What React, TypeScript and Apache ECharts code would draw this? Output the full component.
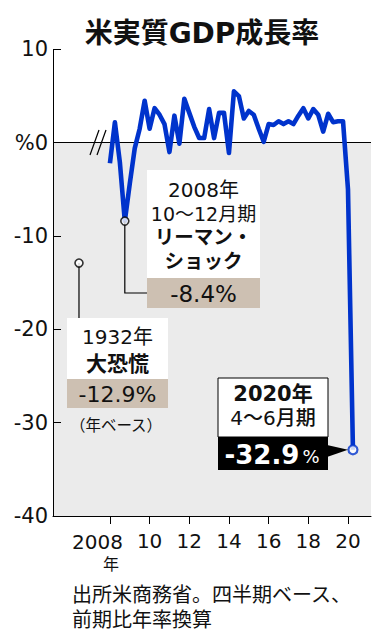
import React, { useEffect, useRef } from "react";
import * as echarts from "echarts";

// ---- data ----
const startYear = 2008;
// US real GDP growth, quarterly, annualized q/q (%), 2008Q1 .. 2020Q2
const gdpGrowth = [
  -2.2, 2.2, -2.1, -8.4,
  -4.4, -0.6, 1.5, 4.5,
  1.5, 3.7, 3.0, 2.0,
  -1.0, 2.9, -0.1, 4.7,
  3.2, 1.7, 0.5, 0.5,
  3.6, 0.5, 3.2, 3.2,
  -1.1, 5.5, 5.0, 2.6,
  3.4, 3.0, 1.5, 0.1,
  2.0, 1.9, 2.3, 2.0,
  2.3, 2.0, 2.9, 3.7,
  2.6, 3.6, 3.0, 1.2,
  3.1, 2.2, 2.3, 2.3,
  -5.0, -32.9,
];
const xTickYears = [2008, 2010, 2012, 2014, 2016, 2018, 2020];
const yTicks = [10, 0, -10, -20, -30, -40];
const lehmanIndex = 3; // 2008 Q4
const covidIndex = gdpGrowth.length - 1; // 2020 Q2
const depressionValue = -12.9; // 1932, annual basis
const depressionSlot = 2006.44; // drawn left of the series, outside its time range
const xMin = 2005.13;
const xMax = 2021.16;
const yMin = -40;

const quarterPos = (i: number) => startYear + Math.floor(i / 4) + (i % 4) / 4;

const FONT = "'DejaVu Sans', 'Noto Sans CJK JP', sans-serif";
const CJK = "'Noto Sans CJK JP', sans-serif";
const BLUE = "#0033cc";
const TAN = "#cdc0b2";
const GRAY = "#ebebeb";

export default function App() {
  const ref = useRef<HTMLDivElement>(null);
  useEffect(() => {
    const chart = echarts.init(ref.current!, null, { renderer: "svg" });
    const lineData = gdpGrowth.map((v, i) => [quarterPos(i), v]);
    const lehmanPt = [quarterPos(lehmanIndex), gdpGrowth[lehmanIndex]];
    const covidPt = [quarterPos(covidIndex), gdpGrowth[covidIndex]];
    const depPt = [depressionSlot, depressionValue];

    chart.setOption({
      animation: false,
      backgroundColor: "#fff",
      textStyle: { fontFamily: FONT },
      grid: { left: 53, right: 13, top: 49.4, bottom: 124 },
      xAxis: {
        type: "value",
        min: xMin,
        max: xMax,
        z: 10,
        splitLine: { show: false },
        axisLine: { show: true, onZero: false, lineStyle: { color: "#000", width: 1 } },
        axisTick: { show: true, customValues: xTickYears, length: 8, lineStyle: { color: "#000" } },
        axisLabel: {
          // the first year is written in full below (with 年), the rest as two digits
          customValues: xTickYears.slice(1),
          margin: 15,
          color: "#111",
          fontSize: 20,
          fontFamily: FONT,
          formatter: (v: number) => String(v).slice(2),
        },
      },
      yAxis: {
        type: "value",
        min: yMin,
        max: 10,
        interval: 10,
        z: 10,
        splitLine: { show: false },
        axisLine: { show: true, onZero: false, lineStyle: { color: "#000", width: 1 } },
        axisTick: { show: true, inside: true, length: 8, lineStyle: { color: "#000" } },
        axisLabel: {
          margin: 5,
          fontSize: 21,
          color: "#111",
          fontFamily: FONT,
          formatter: (v: number) => (yTicks.includes(v) ? (v === 0 ? "%0" : String(v)) : ""),
        },
      },
      series: [
        {
          type: "line",
          data: [],
          z: 1,
          silent: true,
          markArea: {
            silent: true,
            itemStyle: { color: GRAY },
            data: [[{ xAxis: xMin, yAxis: yMin }, { xAxis: xMax, yAxis: 0 }]],
          },
          markLine: {
            silent: true,
            symbol: "none",
            label: { show: false },
            lineStyle: { color: "#000", width: 1.2, type: "solid" },
            data: [{ yAxis: 0 }],
          },
        },
        {
          type: "line",
          data: lineData,
          z: 5,
          showSymbol: false,
          lineStyle: { color: BLUE, width: 4.6, join: "round" },
          silent: true,
        },
        {
          type: "scatter",
          z: 20,
          symbol: "circle",
          silent: true,
          data: [
            { value: lehmanPt, symbolSize: 8, itemStyle: { color: "#fff", borderColor: "#000", borderWidth: 1.6 } },
            { value: depPt, symbolSize: 8, itemStyle: { color: "#fff", borderColor: "#000", borderWidth: 1.6 } },
            { value: covidPt, symbolSize: 9, itemStyle: { color: "#fff", borderColor: BLUE, borderWidth: 2.2 } },
          ],
        },
      ],
    });

    const px = (pt: number[]) => chart.convertToPixel({ gridIndex: 0 }, pt) as number[];
    const L = px(lehmanPt);
    const C = px(covidPt);
    const D = px(depPt);
    const first = px([xTickYears[0], yMin]);

    const txt = (text: string, x: number, y: number, size: number, weight: any = "normal", fill = "#111", align = "center", family = FONT) => ({
      type: "text",
      z: 30,
      x,
      y,
      style: { text, fill, fontSize: size, lineHeight: size, fontWeight: weight, fontFamily: family, align, verticalAlign: "middle" },
    });
    const rect = (x: number, y: number, w: number, h: number, fill: string, stroke?: string) => ({
      type: "rect",
      z: 25,
      shape: { x, y, width: w, height: h },
      style: stroke ? { fill, stroke, lineWidth: 1 } : { fill },
    });

    chart.setOption({
      graphic: [
        txt("米実質GDP成長率", 202, 33, 28, "bold", "#111"),
        // first x label: "2008" with its last two digits under the tick, and 年 below
        txt(String(xTickYears[0]), first[0] + 13, first[1] + 26, 20, "normal", "#111", "right"),
        txt("年", first[0] + 1, first[1] + 48, 16, "normal", "#111", "center"),
        // axis break marks
        { type: "line", z: 30, shape: { x1: 90, y1: 155, x2: 99, y2: 130 }, style: { stroke: "#000", lineWidth: 1.2 } },
        { type: "line", z: 30, shape: { x1: 97, y1: 155, x2: 106, y2: 130 }, style: { stroke: "#000", lineWidth: 1.2 } },
        // Lehman
        { type: "polyline", z: 15, shape: { points: [[L[0], L[1]], [L[0], 293], [147, 293]] }, style: { stroke: "#000", lineWidth: 1.2, fill: "none" } },
        rect(147, 170, 113, 108, "#fff"),
        rect(147, 278, 113, 30, TAN),
        txt("2008年", 203.5, 190, 20),
        txt("10～12月期", 203.5, 214, 19),
        txt("リーマン・", 203.5, 237.5, 19.5, "bold"),
        txt("ショック", 203.5, 261, 19.5, "bold"),
        txt("-8.4%", 203.5, 294, 23),
        // Great Depression
        { type: "line", z: 15, shape: { x1: D[0], y1: D[1], x2: D[0], y2: 318 }, style: { stroke: "#000", lineWidth: 1.2 } },
        rect(67, 318, 101, 61, "#fff"),
        rect(67, 379, 101, 29, TAN),
        txt("1932年", 117.5, 337, 20),
        txt("大恐慌", 117.5, 362, 21, "bold", "#111", "center", CJK),
        txt("-12.9%", 117.5, 394, 22),
        txt("（年ベース）", 116, 424, 15.5, "normal", "#111", "center", CJK),
        // COVID
        rect(218, 378, 110, 59, "#fff", "#000"),
        rect(218, 437, 110, 33, "#000"),
        { type: "polygon", z: 25, shape: { points: [[327, 445], [327, 457], [C[0] - 5, C[1]]] }, style: { fill: "#000" } },
        txt("2020年", 273, 394, 21, "bold"),
        txt("4～6月期", 273, 418, 20, 500),
        {
          type: "text",
          z: 30,
          x: 272,
          y: 455,
          style: {
            text: "{a|-32.9}{b|%}",
            align: "center",
            verticalAlign: "middle",
            rich: {
              a: { fontSize: 26, lineHeight: 26, fontWeight: "bold", fill: "#fff", fontFamily: FONT },
              b: { fontSize: 18, lineHeight: 26, fontWeight: "normal", fill: "#fff", fontFamily: FONT, padding: [3, 0, 0, 3] },
            },
          },
        },
        // source
        txt("出所米商務省。四半期ベース、", 72, 595, 20, "normal", "#111", "left"),
        txt("前期比年率換算", 72, 620, 20, "normal", "#111", "left"),
      ],
    });

    return () => chart.dispose();
  }, []);
  return (
    <div
      ref={ref}
      style={{ position: "fixed", left: 0, top: 0, width: 384, height: 640, background: "#fff" }}
    />
  );
}
